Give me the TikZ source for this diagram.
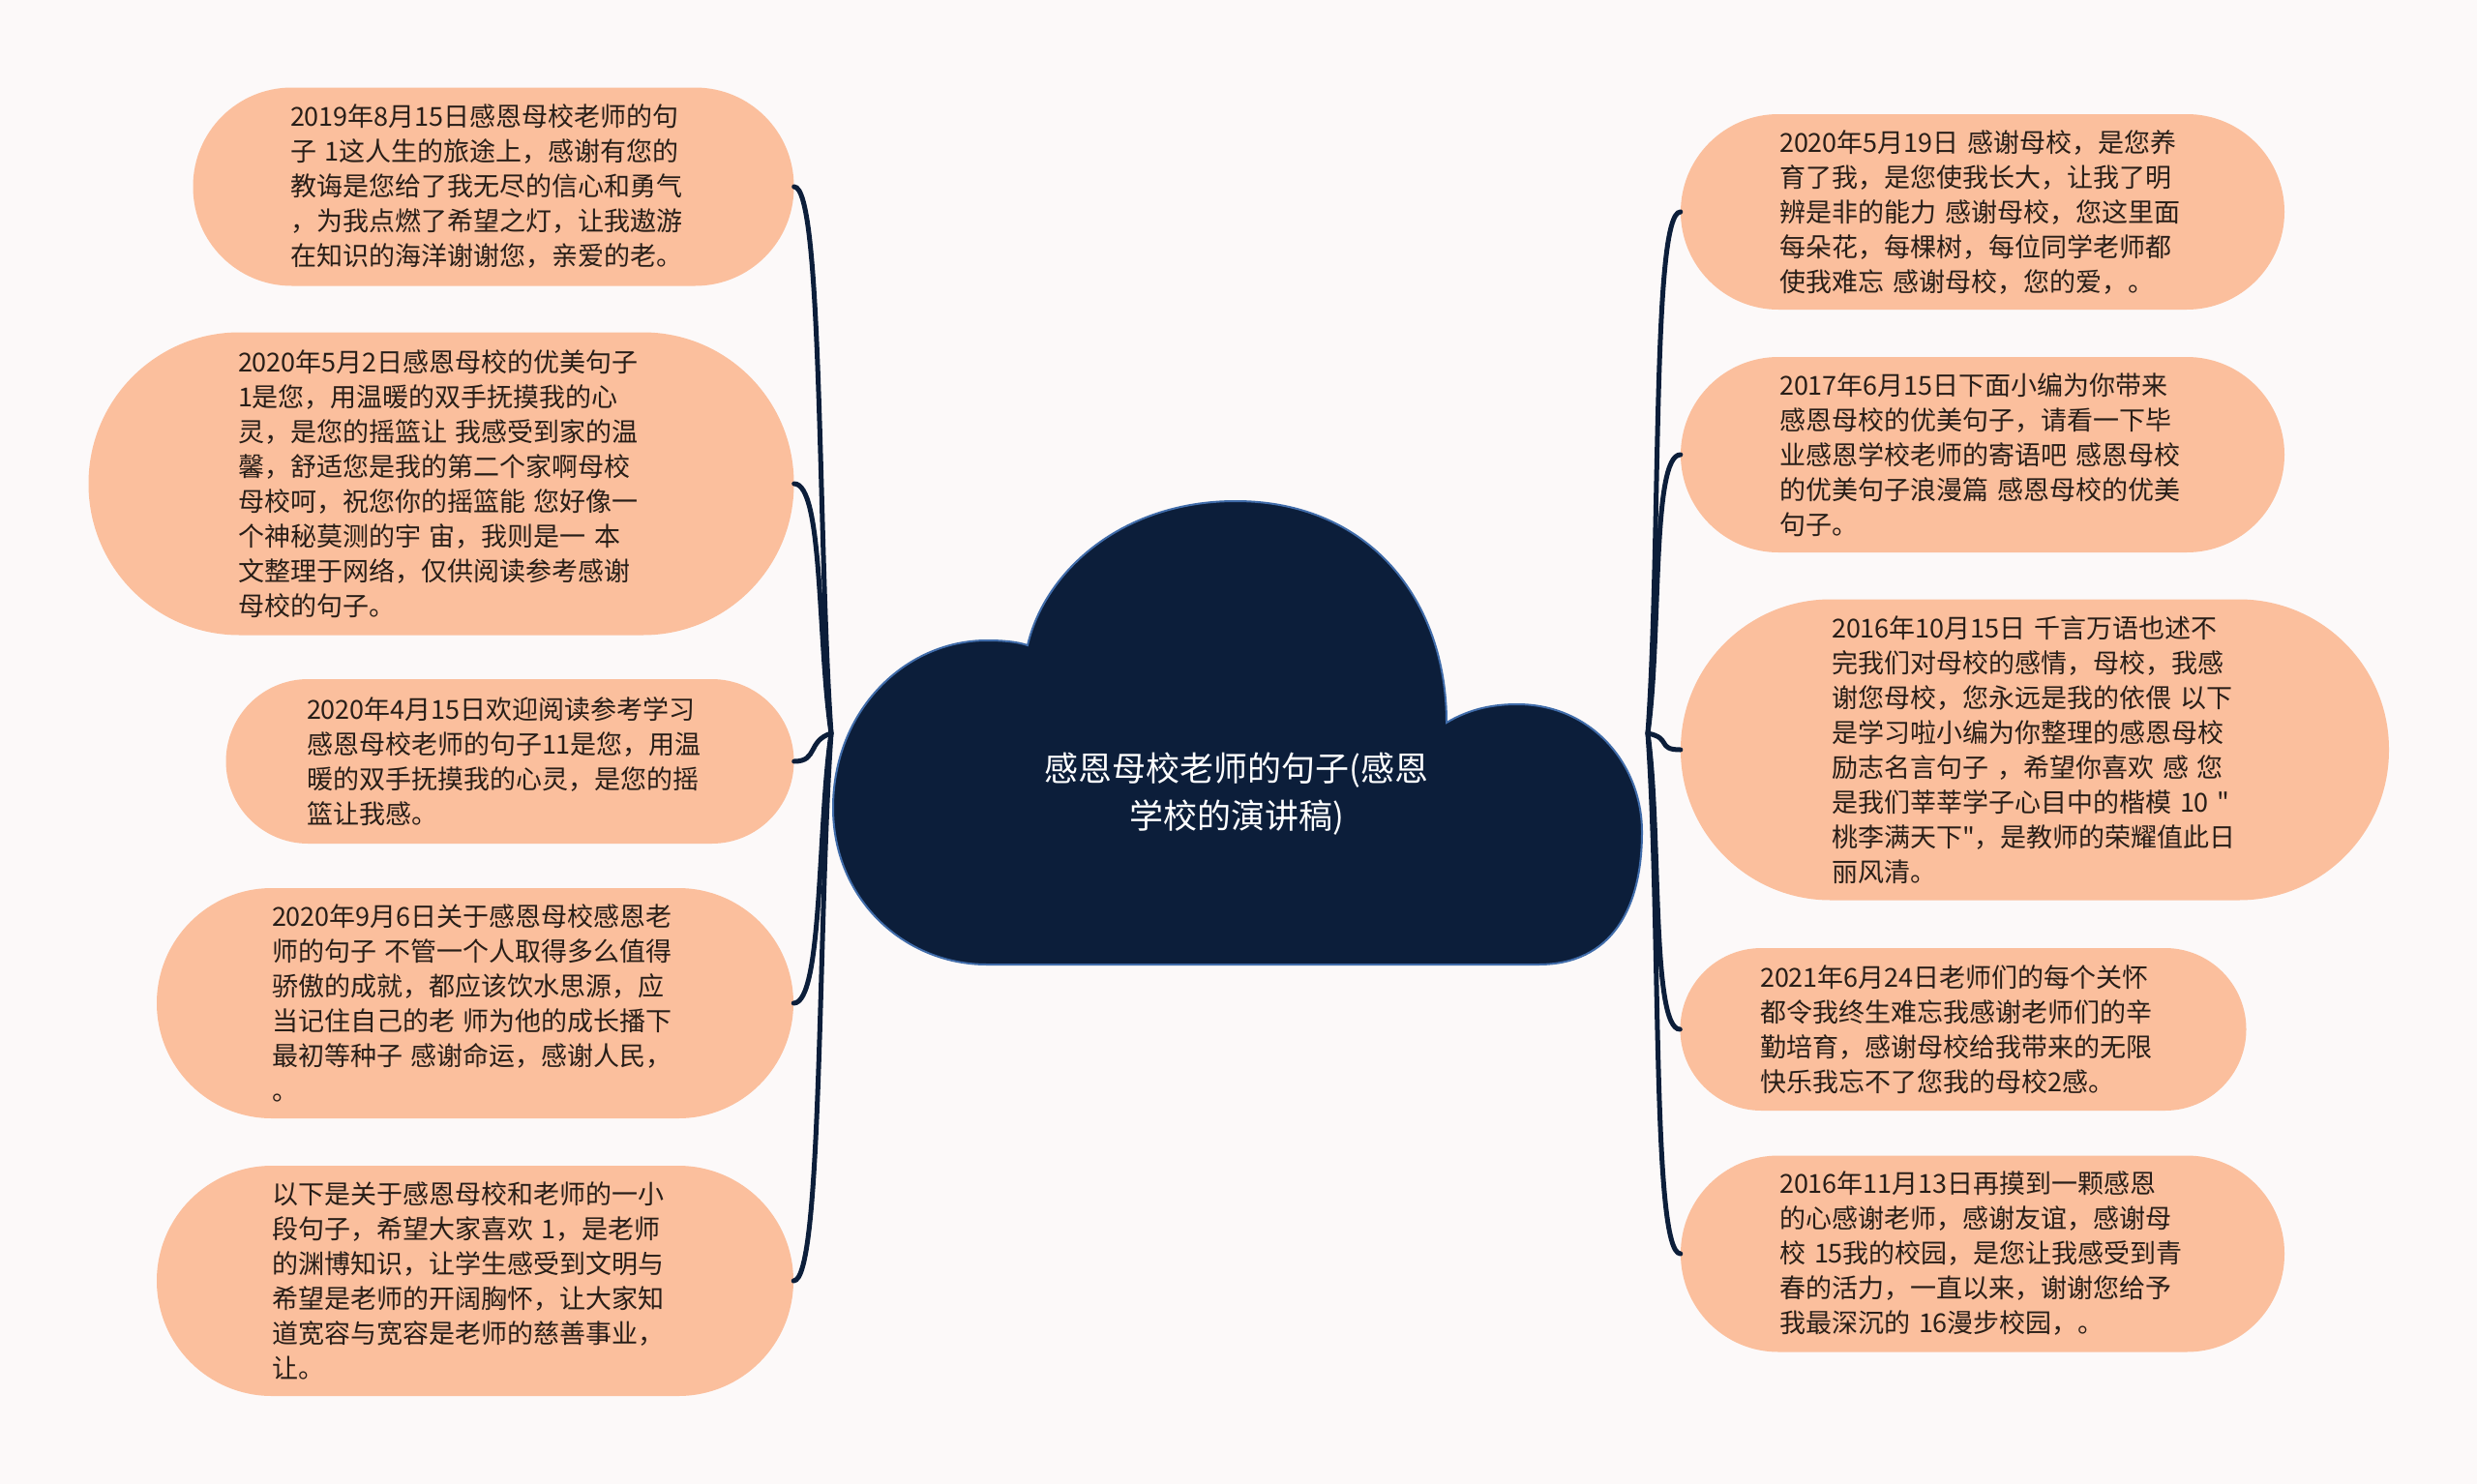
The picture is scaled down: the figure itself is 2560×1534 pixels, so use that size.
\documentclass[tikz,border=0pt]{standalone}
\usepackage{fontspec}
\setmainfont{Noto Sans CJK SC}[Ligatures=TeXOff]
\usepackage{tikz}
\usetikzlibrary{positioning}
\usetikzlibrary{calc}
\definecolor{paper}{RGB}{252,249,249}
\definecolor{peach}{RGB}{251,191,157}
\definecolor{navy}{RGB}{12,30,58}
\definecolor{rim}{RGB}{64,108,170}
\definecolor{ink}{RGB}{40,30,24}

\begin{document}
\begin{tikzpicture}[x=1pt,y=-1pt,
		leaf/.style={fill=peach,text=ink,inner sep=0pt,text width=420pt,align=left,
			font=\fontsize{27}{36}\selectfont},
		title/.style={text=white,align=center,font=\fontsize{35}{49}\selectfont},
		link/.style={draw=navy,line width=5pt,line cap=round}]
			% Page
			\useasboundingbox (0,0) rectangle (2560,1534);
			\fill[paper] (0,0) rectangle (2560,1534);

			% Cloud
			\draw[fill=navy,draw=rim,line width=2pt]
				(1020,997) .. controls (935,997) and (861,930) .. (861,835)
				.. controls (861,735) and (935,662) .. (1020,662)
				.. controls (1035,662) and (1050,663) .. (1062,667)
				.. controls (1080,590) and (1160,518) .. (1277,518)
				.. controls (1415,518) and (1495,620) .. (1495,747)
				.. controls (1520,732) and (1545,728) .. (1568,728)
				.. controls (1645,728) and (1697,790) .. (1697,860)
				.. controls (1697,940) and (1665,997) .. (1590,997) -- cycle;
			\node[title] (root) at (1278,821) {感恩母校老师的句子(感恩\\学校的演讲稿)};
			\coordinate (hubL) at (859,758);
			\coordinate (hubR) at (1703,758);

			% Left leaves
			\node[leaf,minimum width=621pt,minimum height=205pt,rounded corners=102pt] (l1) at (510,193)
				{2019年8月15日感恩母校老师的句\\子 1这人生的旅途上，感谢有您的\\教诲是您给了我无尽的信心和勇气\\，为我点燃了希望之灯，让我遨游\\在知识的海洋谢谢您，亲爱的老。};
			\node[leaf,minimum width=729pt,minimum height=313pt,rounded corners=156pt] (l2) at (456,500)
				{2020年5月2日感恩母校的优美句子\\1是您，用温暖的双手抚摸我的心\\灵，是您的摇篮让 我感受到家的温\\馨，舒适您是我的第二个家啊母校\\母校呵，祝您你的摇篮能 您好像一\\个神秘莫测的宇 宙，我则是一 本\\文整理于网络，仅供阅读参考感谢\\母校的句子。};
			\node[leaf,minimum width=587pt,minimum height=170pt,rounded corners=85pt] (l3) at (527,787)
				{2020年4月15日欢迎阅读参考学习\\感恩母校老师的句子11是您，用温\\暖的双手抚摸我的心灵，是您的摇\\篮让我感。};
			\node[leaf,minimum width=658pt,minimum height=238pt,rounded corners=119pt] (l4) at (491,1037)
				{2020年9月6日关于感恩母校感恩老\\师的句子 不管一个人取得多么值得\\骄傲的成就，都应该饮水思源，应\\当记住自己的老 师为他的成长播下\\最初等种子 感谢命运，感谢人民，\\。};
			\node[leaf,minimum width=658pt,minimum height=238pt,rounded corners=119pt] (l5) at (491,1324)
				{以下是关于感恩母校和老师的一小\\段句子，希望大家喜欢 1，是老师\\的渊博知识，让学生感受到文明与\\希望是老师的开阔胸怀，让大家知\\道宽容与宽容是老师的慈善事业，\\让。};

			% Right leaves
			\node[leaf,minimum width=624pt,minimum height=202pt,rounded corners=101pt] (r1) at (2049,219)
				{2020年5月19日 感谢母校，是您养\\育了我，是您使我长大，让我了明\\辨是非的能力 感谢母校，您这里面\\每朵花，每棵树，每位同学老师都\\使我难忘 感谢母校，您的爱，。};
			\node[leaf,minimum width=624pt,minimum height=202pt,rounded corners=101pt] (r2) at (2049,470)
				{2017年6月15日下面小编为你带来\\感恩母校的优美句子，请看一下毕\\业感恩学校老师的寄语吧 感恩母校\\的优美句子浪漫篇 感恩母校的优美\\句子。};
			\node[leaf,minimum width=732pt,minimum height=311pt,rounded corners=155pt] (r3) at (2103,775)
				{2016年10月15日 千言万语也述不\\完我们对母校的感情，母校，我感\\谢您母校，您永远是我的依偎 以下\\是学习啦小编为你整理的感恩母校\\励志名言句子 ，希望你喜欢 感 您\\是我们莘莘学子心目中的楷模 10 "\\桃李满天下"，是教师的荣耀值此日\\丽风清。};
			\node[leaf,minimum width=585pt,minimum height=168pt,rounded corners=84pt] (r4) at (2029,1064)
				{2021年6月24日老师们的每个关怀\\都令我终生难忘我感谢老师们的辛\\勤培育，感谢母校给我带来的无限\\快乐我忘不了您我的母校2感。};
			\node[leaf,minimum width=624pt,minimum height=203pt,rounded corners=101pt] (r5) at (2049,1296)
				{2016年11月13日再摸到一颗感恩\\的心感谢老师，感谢友谊，感谢母\\校 15我的校园，是您让我感受到青\\春的活力，一直以来，谢谢您给予\\我最深沉的 16漫步校园，。};

			% Links
			\draw[link] (l1.east) .. controls +(30,0) and +(-14,-200) .. (hubL);
			\draw[link] (l2.east) .. controls +(30,0) and +(-14,-95) .. (hubL);
			\draw[link] (l3.east) .. controls +(25,0) and +(-25,8) .. (hubL);
			\draw[link] (l4.east) .. controls +(30,0) and +(-14,95) .. (hubL);
			\draw[link] (l5.east) .. controls +(30,0) and +(-14,200) .. (hubL);
			\draw[link] (r1.west) .. controls +(-30,0) and +(14,-200) .. (hubR);
			\draw[link] (r2.west) .. controls +(-30,0) and +(14,-100) .. (hubR);
			\draw[link] (r3.west) .. controls +(-25,0) and +(25,5) .. (hubR);
			\draw[link] (r4.west) .. controls +(-30,0) and +(14,100) .. (hubR);
			\draw[link] (r5.west) .. controls +(-30,0) and +(14,200) .. (hubR);
		\end{tikzpicture}
\end{document}
